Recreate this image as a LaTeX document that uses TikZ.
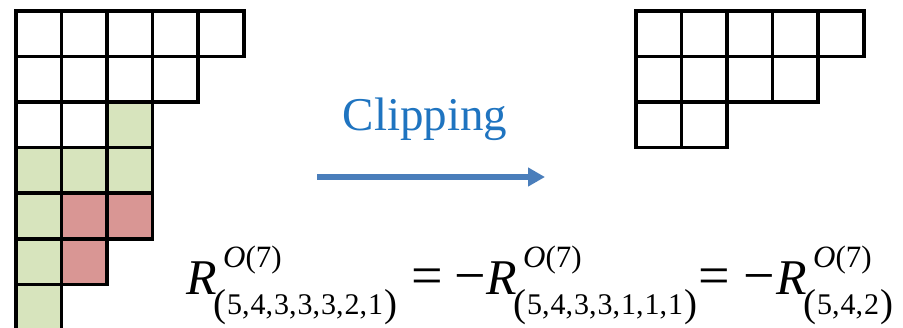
\documentclass[tikz,border=0pt]{standalone}
\usepackage{fontspec}
\setmainfont{Liberation Serif}
\usetikzlibrary{arrows.meta}
\definecolor{cellgreen}{HTML}{D7E4BD}
\definecolor{cellred}{HTML}{D99694}
\definecolor{arrowblue}{HTML}{4A7EBB}
\definecolor{textblue}{HTML}{1F74C0}
\newcommand\bpar[1]{{\fontsize{39}{39}\selectfont\raisebox{-2pt}{#1}}}
\newcommand\cm{,\kern1pt}
\begin{document}
\begin{tikzpicture}[x=1pt,y=-1pt,
  cell/.style={draw=black, line width=3.6pt, minimum size=45.6pt, inner sep=0pt, anchor=north west, fill=white},
  flow/.style={draw=arrowblue, line width=5.5pt, -{Triangle[length=17pt,width=18pt]}},
  bigR/.style={font=\fontsize{50}{50}\selectfont\itshape, anchor=base west, inner sep=0pt},
  supS/.style={font=\fontsize{31}{31}\selectfont, anchor=base west, inner sep=0pt},
  subS/.style={font=\fontsize{30}{30}\selectfont, anchor=base west, inner sep=0pt},
  op/.style={font=\fontsize{56}{56}\selectfont, anchor=base west, inner sep=0pt}]
\useasboundingbox (0,0) rectangle (903,327);
% left diagram
\foreach \r/\n in {1/5,2/4,3/3,4/3,5/3,6/2,7/1}{
  \foreach \c in {1,...,\n}{
    \node[cell] (L-\r-\c) at ({14+(\c-1)*45.6},{9+(\r-1)*45.6}) {};
  }
}
\foreach \r/\c/\col in {3/3/cellgreen,4/1/cellgreen,4/2/cellgreen,4/3/cellgreen,5/1/cellgreen,6/1/cellgreen,7/1/cellgreen,5/2/cellred,5/3/cellred,6/2/cellred}{
  \node[cell, fill=\col] (C-\r-\c) at ({14+(\c-1)*45.6},{9+(\r-1)*45.6}) {};
}
% right diagram
\foreach \r/\n in {1/5,2/4,3/2}{
  \foreach \c in {1,...,\n}{
    \node[cell] (Q-\r-\c) at ({634+(\c-1)*45.6},{9+(\r-1)*45.6}) {};
  }
}
% arrow
\coordinate (a1) at (317,177);
\coordinate (a2) at (545,177);
\draw[flow] (a1) -- (a2);
\node[font=\fontsize{47}{47}\selectfont, text=textblue, anchor=base, inner sep=0pt] (clip) at (425,130) {Clipping};
% formula
\node[bigR] (R1) at (186,294) {R};
\node[supS] (S1) at (223,267) {\textit{O}(7)};
\node[subS] (B1) at (213,314) {\bpar{(}\kern1pt 5\cm 4\cm 3\cm 3\cm 3\cm 2\cm 1\kern1pt\bpar{)}};
\node[op] (E1) at (411,294) {=};
\node[op] (M1) at (454,294) {−};
\node[bigR] (R2) at (486,294) {R};
\node[supS] (S2) at (523,267) {\textit{O}(7)};
\node[subS] (B2) at (513,314) {\bpar{(}\kern1pt 5\cm 4\cm 3\cm 3\cm 1\cm 1\cm 1\kern1pt\bpar{)}};
\node[op] (E2) at (698,294) {=};
\node[op] (M2) at (743,294) {−};
\node[bigR] (R3) at (776,294) {R};
\node[supS] (S3) at (813,267) {\textit{O}(7)};
\node[subS] (B3) at (803,314) {\bpar{(}\kern1pt 5\cm 4\cm 2\kern1pt\bpar{)}};
\end{tikzpicture}
\end{document}
